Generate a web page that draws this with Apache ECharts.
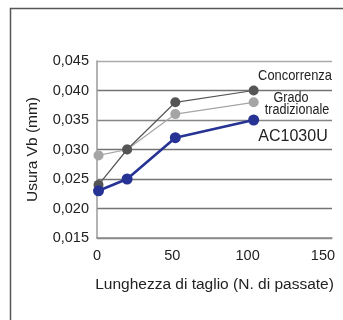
<!DOCTYPE html>
<html>
<head>
<meta charset="utf-8">
<script src="https://cdn.jsdelivr.net/npm/echarts@6/dist/echarts.min.js"></script>
<style>
html,body{margin:0;padding:0;background:#fff;}
#c{width:343px;height:320px;}
</style>
</head>
<body>
<div id="c"></div>
<script>
const passate = [1, 20, 52, 104];
const concorrenza = [0.024, 0.030, 0.038, 0.040];
const gradoTradizionale = [0.029, 0.030, 0.036, 0.038];
const ac1030u = [0.023, 0.025, 0.032, 0.035];
const xTicks = [0, 50, 100, 150];
const yTicks = [0.015, 0.020, 0.025, 0.030, 0.035, 0.040, 0.045];

const pair = (xs, ys) => xs.map((x, i) => [x, ys[i]]);
const font = '"Liberation Sans", Arial, sans-serif';

const chart = echarts.init(document.getElementById('c'), null, {renderer: 'canvas'});
chart.setOption({
  animation: false,
  backgroundColor: '#fff',
  grid: {left: 97, right: 11, top: 61, bottom: 82},
  xAxis: {
    type: 'value',
    min: xTicks[0], max: 156, interval: 50,
    name: 'Lunghezza di taglio (N. di passate)',
    nameLocation: 'middle', nameGap: 39,
    nameTextStyle: {fontFamily: font, fontSize: 15.5, color: '#222'},
    axisLine: {show: true, lineStyle: {color: '#8a8a8a', width: 1.5}},
    axisTick: {show: false},
    splitLine: {show: false},
    axisLabel: {
      fontFamily: font, fontSize: 14.5, color: '#222', margin: 10,
      showMaxLabel: false,
      formatter: v => xTicks.indexOf(v) >= 0 ? String(v) : ''
    }
  },
  yAxis: {
    type: 'value',
    min: yTicks[0], max: yTicks[yTicks.length - 1], interval: 0.005,
    name: 'Usura Vb (mm)',
    nameLocation: 'middle', nameGap: 56,
    nameTextStyle: {fontFamily: font, fontSize: 15.5, color: '#222'},
    axisLine: {show: true, lineStyle: {color: '#9a9a9a', width: 1.5}},
    axisTick: {show: false},
    splitLine: {show: true, lineStyle: {color: ['#8a8a8a','#737373','#737373','#737373','#858585','#737373','#aaaaaa'], width: 1.3}},
    axisLabel: {
      fontFamily: font, fontSize: 14.5, color: '#222', margin: 8,
      formatter: v => v.toFixed(3).replace('.', ',')
    }
  },
  series: [
    {
      name: 'Grado tradizionale', type: 'line', data: pair(passate, gradoTradizionale),
      symbol: 'circle', symbolSize: 10,
      lineStyle: {color: '#a5a5a5', width: 1.2},
      itemStyle: {color: '#a5a5a5'}, z: 2
    },
    {
      name: 'Concorrenza', type: 'line', data: pair(passate, concorrenza),
      symbol: 'circle', symbolSize: 10,
      lineStyle: {color: '#555555', width: 1.2},
      itemStyle: {color: '#555555'}, z: 3
    },
    {
      name: 'AC1030U', type: 'line', data: pair(passate, ac1030u),
      symbol: 'circle', symbolSize: 11,
      lineStyle: {color: '#263394', width: 2.6},
      itemStyle: {color: '#263394'}, z: 4
    }
  ],
  graphic: [
    {type: 'rect', shape: {x: 10.5, y: 8.5, width: 400, height: 400}, style: {fill: null, stroke: '#555', lineWidth: 1.5}, silent: true},
    {type: 'text', x: 295, y: 76, scaleX: 0.86, style: {text: 'Concorrenza', font: '15px ' + font, fill: '#222', textAlign: 'center', textVerticalAlign: 'middle'}},
    {type: 'text', x: 291, y: 98, scaleX: 0.9, style: {text: 'Grado', font: '14px ' + font, fill: '#222', textAlign: 'center', textVerticalAlign: 'middle'}},
    {type: 'text', x: 297, y: 110, scaleX: 0.9, style: {text: 'tradizionale', font: '14px ' + font, fill: '#222', textAlign: 'center', textVerticalAlign: 'middle'}},
    {type: 'text', x: 293, y: 137, style: {text: 'AC1030U', font: '16px ' + font, fill: '#222', textAlign: 'center', textVerticalAlign: 'middle'}}
  ]
});
</script>
</body>
</html>
